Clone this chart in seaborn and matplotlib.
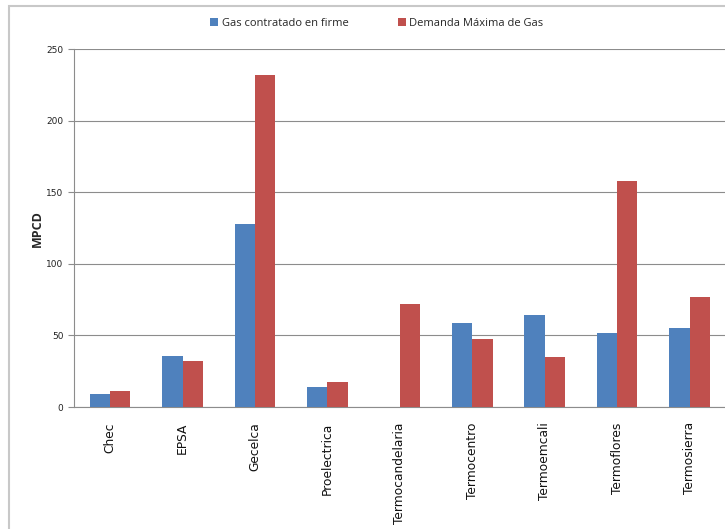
import pandas as pd
import matplotlib.pyplot as plt
import seaborn as sns
from matplotlib.patches import Rectangle

# data (MPCD)
plantas = ["Chec", "EPSA", "Gecelca", "Proelectrica", "Termocandelaria",
           "Termocentro", "Termoemcali", "Termoflores", "Termosierra"]
gas_firme = [9, 36, 128, 14, 0, 59, 64, 52, 55]
demanda_max = [11, 32, 232, 17.5, 72, 47.5, 35, 158, 77]
series = ["Gas contratado en firme", "Demanda Máxima de Gas"]
colores = ["#4F81BD", "#C0504D"]

df = pd.DataFrame({"Planta": plantas * 2,
                   "Serie": [series[0]] * len(plantas) + [series[1]] * len(plantas),
                   "MPCD": gas_firme + demanda_max})

sns.set_style("white")
plt.rcParams["font.family"] = ["DejaVu Sans"]

fig = plt.figure(figsize=(7.25, 5.29), dpi=100)
# plot area runs past the right edge, as in the cropped source
ax = fig.add_axes([0.102, 0.2306, 0.899, 0.676])

sns.barplot(data=df, x="Planta", y="MPCD", hue="Serie", palette=colores,
            width=0.56, gap=0, saturation=1, ax=ax, edgecolor="none", zorder=3)

ax.set_ylim(0, 250)
ax.set_yticks([0, 50, 100, 150, 200, 250])
ax.yaxis.grid(True, color="#8c8c8c", linewidth=0.8, zorder=0)
ax.set_axisbelow(True)
for s in ["top", "right"]:
    ax.spines[s].set_visible(False)
ax.spines["left"].set_color("#8c8c8c")
ax.spines["bottom"].set_color("#8c8c8c")
ax.spines["left"].set_linewidth(0.8)
ax.spines["bottom"].set_linewidth(0.8)
ax.tick_params(axis="y", labelsize=6.5, length=4, width=0.8, color="#8c8c8c",
               left=True, labelcolor="#222222")
ax.tick_params(axis="x", labelsize=8.8, rotation=90, length=0, pad=11,
               labelcolor="#111111")
ax.set_xlabel("")
ax.set_ylabel("MPCD", fontsize=9, fontweight="bold", fontfamily="Open Sans",
              labelpad=2)

ax.legend(loc="upper center", bbox_to_anchor=(0.465, 1.117), ncol=2, frameon=False,
          handlelength=0.7, handleheight=0.7, handletextpad=0.3,
          columnspacing=4.5, prop={"family": "Open Sans", "size": 8})

# chart area border (clipped like the source screenshot)
fig.patches.append(Rectangle((9 / 725, -0.1), 1.2, 1 - 6 / 529 + 0.1,
                             transform=fig.transFigure, fill=False,
                             edgecolor="#c8c8c8", linewidth=1.5))

fig.savefig("out.png", dpi=100)
